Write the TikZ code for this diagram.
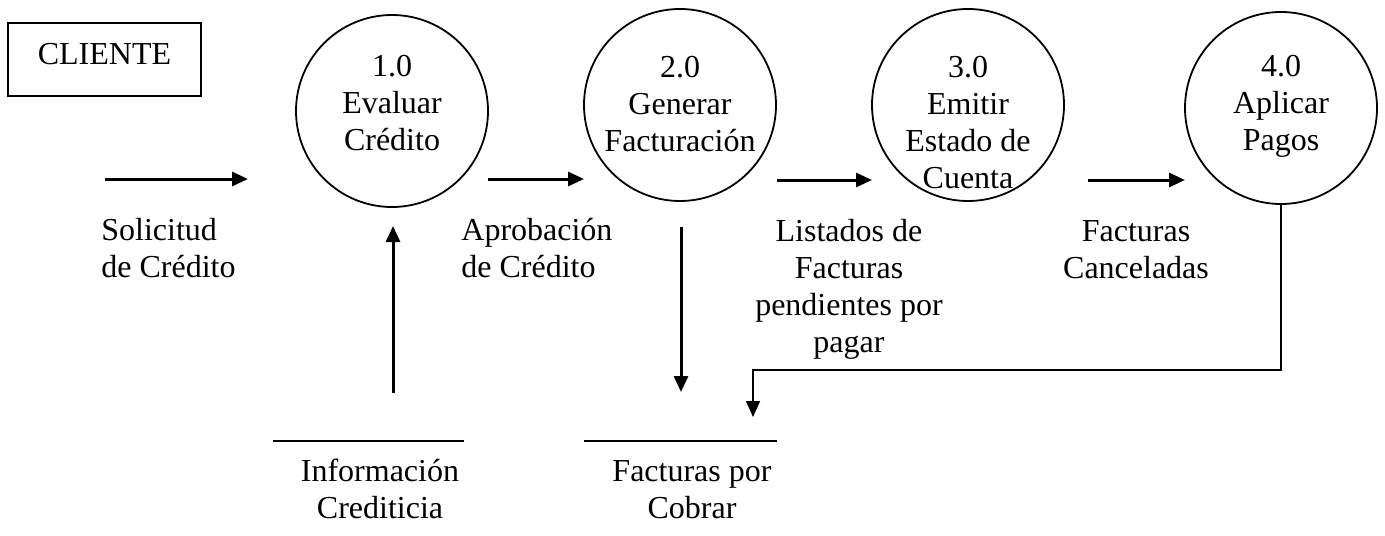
\documentclass[tikz,border=0pt]{standalone}
\usepackage{fontspec}
\setmainfont{Liberation Serif}
\usetikzlibrary{arrows.meta}

\begin{document}
\begin{tikzpicture}[x=0.5pt,y=-0.5pt,
  every node/.style={font=\fontsize{16}{18.5}\selectfont, inner sep=0pt},
  proc/.style={draw, circle, line width=0.9pt, minimum size=96pt},
  lbl/.style={align=center},
  flow/.style={line width=1.5pt, -{Triangle[length=8pt,width=7pt]}},
  flowthin/.style={line width=0.8pt, -{Triangle[length=8pt,width=7pt]}},
  store/.style={line width=1pt}]
\useasboundingbox (0,0) rectangle (1385,535);

% entidad externa
\node[draw, line width=0.9pt, minimum width=96.5pt, minimum height=36.5pt, text depth=5.5pt] (cliente) at (104.5,59.5) {CLIENTE};

% procesos
\foreach \n/\cx/\cy/\ty/\txt in {1/392/111/103/{1.0\\Evaluar\\Crédito},
    2/680/105/104/{2.0\\Generar\\Facturación},
    3/968/105/123/{3.0\\Emitir\\Estado de\\Cuenta},
    4/1281/108/106/{4.0\\Aplicar\\Pagos}}
  { \node[proc] (p\n) at (\cx,\cy) {};
    \node[lbl] (p\n txt) at (\cx,\ty) {\txt}; }

% almacenes
\draw[store] (273,441) -- (464,441);
\draw[store] (584,441) -- (777,441);
\node[lbl] (inf) at (380,489) {Información\\Crediticia};
\node[lbl] (fpc) at (692,490) {Facturas por\\Cobrar};

% flujos
\coordinate (f1a) at (105,179);  \coordinate (f1b) at (248,179);
\coordinate (f2a) at (488,179);  \coordinate (f2b) at (584,179);
\coordinate (f3a) at (777,180);  \coordinate (f3b) at (872,180);
\coordinate (f4a) at (1088,180); \coordinate (f4b) at (1185,180);
\coordinate (up1) at (393,393);  \coordinate (up2) at (393,226);
\coordinate (dn1) at (681,227);  \coordinate (dn2) at (681,392);
\coordinate (el1) at (753,370);  \coordinate (el2) at (753,417);

\draw[flow] (f1a) -- (f1b);
\draw[flow] (f2a) -- (f2b);
\draw[flow] (f3a) -- (f3b);
\draw[flow] (f4a) -- (f4b);
\draw[flow] (up1) -- (up2);
\draw[flow] (dn1) -- (dn2);
\draw[flowthin] (p4) |- (el1) -- (el2);

\node[anchor=west, align=left] (sol) at (101,248) {Solicitud\\de Crédito};
\node[anchor=west, align=left] (apr) at (461,248) {Aprobación\\de Crédito};
\node[lbl] (lis) at (849,289) {Listados de\\Facturas\\pendientes por\\pagar};
\node[lbl] (can) at (1136,250) {Facturas\\Canceladas};

\end{tikzpicture}
\end{document}
